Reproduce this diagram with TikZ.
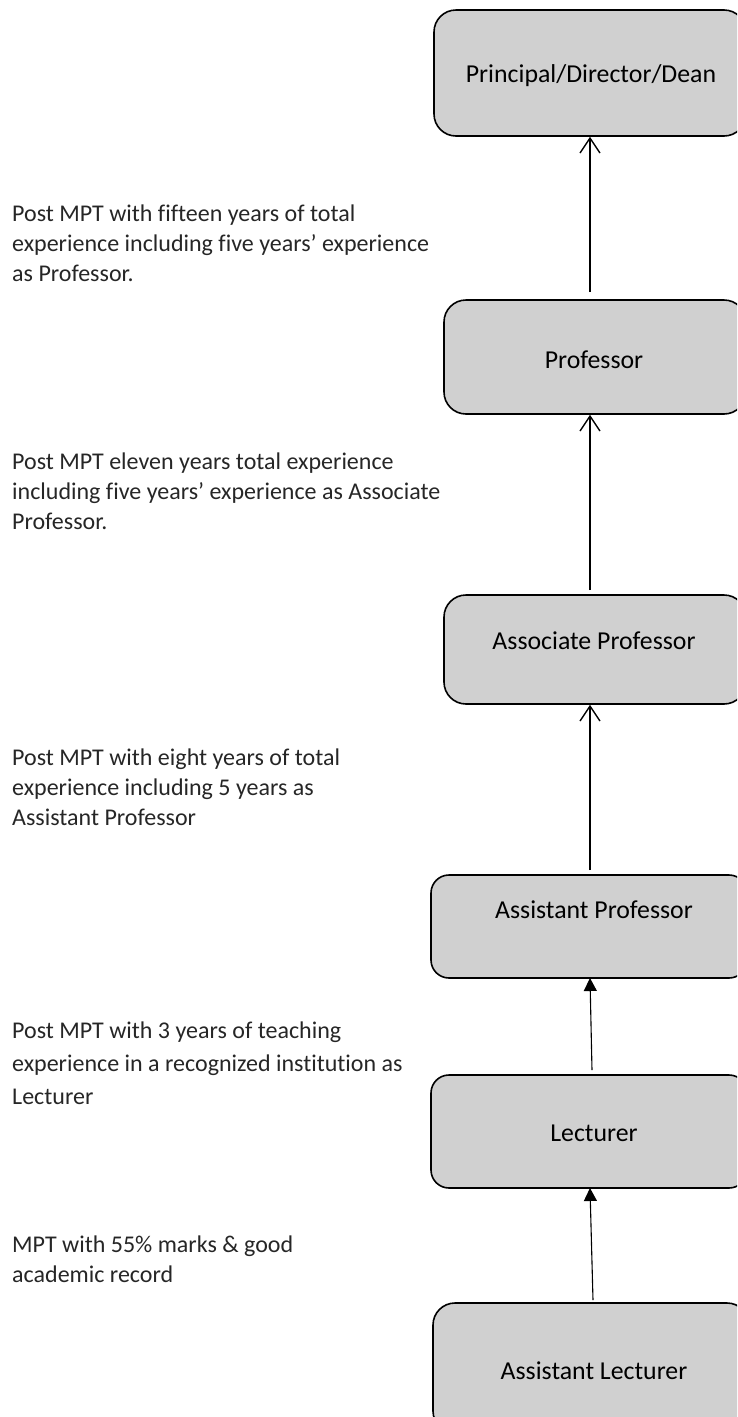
\documentclass[tikz,border=0pt]{standalone}
\usepackage{fontspec}
\setmainfont{Carlito}[Ligatures=NoCommon]
\usetikzlibrary{arrows.meta}
\definecolor{boxfill}{HTML}{D0D0D0}
\definecolor{txt}{HTML}{262626}
\begin{document}
\begin{tikzpicture}[x=1pt,y=-1pt,
  box/.style={draw=black, line width=1.6pt, fill=boxfill, rounded corners=22pt, inner sep=0pt},
  boxsm/.style={box, rounded corners=18pt},
  boxtext/.style={font=\fontsize{25.8}{30}\selectfont, text=black, inner sep=0pt, anchor=base},
  desc/.style={font=\fontsize{24}{30}\selectfont, text=txt, align=left, inner sep=0pt, anchor=north west},
  openarr/.style={line width=1.6pt, -{Straight Barb[length=15pt,width=20pt,line width=1.4pt]}},
  fillarr/.style={line width=1.1pt, -{Triangle[length=13pt,width=13pt]}}
]
\useasboundingbox (0,0) rectangle (737,1417);
\clip (0,0) rectangle (737,1417);
% boxes
\node[box, minimum width=312pt, minimum height=126pt] (b1) at (590,73) {};
\node[box, minimum width=302pt, minimum height=114pt] (b2) at (595,357) {};
\node[box, minimum width=302pt, minimum height=109pt] (b3) at (595,649.5) {};
\node[boxsm, minimum width=316pt, minimum height=103pt] (b4) at (589,926.5) {};
\node[boxsm, minimum width=316pt, minimum height=113pt] (b5) at (589,1131.5) {};
\node[box, minimum width=316pt, minimum height=130pt] (b6) at (591,1368) {};
% box texts
\node[boxtext] (t1) at (591,82) {Principal/Director/Dean};
\node[boxtext] (t2) at (594,368) {Professor};
\node[boxtext] (t3) at (594,649) {Associate Professor};
\node[boxtext] (t4) at (594,918) {Assistant Professor};
\node[boxtext] (t5) at (594,1141) {Lecturer};
\node[boxtext] (t6) at (594,1379) {Assistant Lecturer};
% connectors
\coordinate (a1) at (590,292);
\coordinate (a2) at (590,590);
\coordinate (a3) at (590,870);
\coordinate (a4) at (592,1070);
\coordinate (a5) at (593,1300);
\draw[openarr] (a1) -- (a1 |- b1.south);
\draw[openarr] (a2) -- (a2 |- b2.south);
\draw[openarr] (a3) -- (a3 |- b3.south);
\draw[fillarr] (a4) -- (590,978);
\draw[fillarr] (a5) -- (590,1188);
% descriptions
\node[desc] (d1) at (12,205) {Post MPT with fifteen years of total\\experience including five years’ experience\\as Professor.};
\node[desc] (d2) at (12,453) {Post MPT eleven years total experience\\including five years’ experience as Associate\\Professor.};
\node[desc] (d3) at (12,749) {Post MPT with eight years of total\\experience including 5 years as\\Assistant Professor};
\node[desc, font=\fontsize{24}{33}\selectfont] (d4) at (12,1022) {Post MPT with 3 years of teaching\\experience in a recognized institution as\\Lecturer};
\node[desc] (d5) at (12,1236) {MPT with 55\% marks \& good\\academic record};
\end{tikzpicture}
\end{document}
